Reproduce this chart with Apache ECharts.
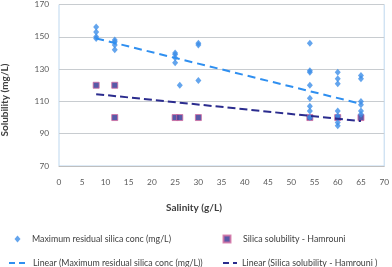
<!DOCTYPE html>
<html><head><meta charset="utf-8">
<script src="https://cdn.jsdelivr.net/npm/echarts@6/dist/echarts.min.js"></script>
<style>html,body{margin:0;padding:0;background:#fff}#c{width:392px;height:267px}</style>
</head><body><div id="c"></div>
<script>
// Maximum residual silica conc (mg/L): [salinity, value]
var maxResidual = [
  [8,156],[8,153],[8,150],[8,149],
  [12,148],[12,147],[12,145],[12,142],
  [25,140],[25,139],[25,137],[25,134],[26,120],
  [30,146],[30,145],[30,123],
  [54,146],[54,129],[54,128],[54,120],[54,112],[54,107],[54,104],[54,100],
  [60,128],[60,124],[60,121],[60,104],[60,101],[60,97],[60,95],
  [65,126],[65,124],[65,110],[65,108],[65,104],[65,102]
];
// Silica solubility - Hamrouni
var hamrouni = [[8,120],[12,120],[12,100],[25,100],[26,100],[30,100],[54,100],[60,100],[65,100]];
// Trend line endpoints
var trendMax = [[8,149],[65,108.5]];
var trendHam = [[8,114.5],[65,97.8]];
var xTicks = [0,70,5];
var yTicks = [70,170,20];
var xTitle = 'Salinity (g/L)';
var yTitle = 'Solubility (mg/L)';

var FONT = 'Lato';
var chart = echarts.init(document.getElementById('c'), null, {renderer:'canvas'});
function legendAt(left, top, w, h, pad, item, extra) {
  var l = {orient:'horizontal',left:left,top:top,padding:0,itemWidth:w,itemHeight:h,
    textStyle:{fontFamily:FONT,fontSize:8.8,color:'#404040',padding:[0,0,0,pad]},data:[item]};
  for (var k in extra) l[k] = extra[k];
  return l;
}
var lineLeg = {itemStyle:{opacity:0},lineStyle:{type:[6,4],width:2}};
var titleStyle = {fontFamily:FONT,fontSize:10,fontWeight:'bold',fill:'#404040',align:'center',verticalAlign:'middle'};
chart.setOption({
  animation:false,
  textStyle:{fontFamily:FONT},
  grid:{left:59,right:5,top:4.5,bottom:101,show:true,borderColor:'#bdd7ee',borderWidth:1,backgroundColor:'transparent'},
  graphic:[
    {type:'text',x:194,y:208,style:Object.assign({text:xTitle},titleStyle)},
    {type:'text',x:5,y:100,rotation:Math.PI/2,style:Object.assign({text:yTitle},titleStyle)}
  ],
  xAxis:{type:'value',min:xTicks[0],max:xTicks[1],interval:xTicks[2],
    axisLine:{show:true,lineStyle:{color:'#bfbfbf'}},axisTick:{show:false},splitLine:{show:false},
    axisLabel:{fontFamily:FONT,fontSize:8.3,color:'#595959',margin:12}},
  yAxis:{type:'value',min:yTicks[0],max:yTicks[1],interval:yTicks[2],
    axisLine:{show:false},axisTick:{show:false},
    splitLine:{show:true,lineStyle:{color:'#c8ccd0',width:1}},
    axisLabel:{fontFamily:FONT,fontSize:8.3,color:'#595959',margin:10}},
  legend:[
    legendAt(14.5,234.5,6,7,6.5,{name:'Maximum residual silica conc (mg/L)',icon:'diamond'},{}),
    legendAt(8,258.5,16,7,3,{name:'Linear (Maximum residual silica conc (mg/L))'},lineLeg),
    legendAt(222.5,234.5,7,7,7.5,{name:'Silica solubility - Hamrouni',icon:'rect'},{}),
    legendAt(222,258.5,14,7,0,{name:'Linear (Silica solubility - Hamrouni )'},lineLeg)
  ],
  series:[
    {name:'Maximum residual silica conc (mg/L)',type:'scatter',data:maxResidual,symbol:'diamond',symbolSize:[6,7],
     itemStyle:{color:'#3d8fe8'},z:3},
    {name:'Silica solubility - Hamrouni',type:'scatter',data:hamrouni,symbol:'rect',symbolSize:6,
     itemStyle:{color:'#2e3192',borderColor:'#d36ba0',borderWidth:1},z:2},
    {name:'Linear (Maximum residual silica conc (mg/L))',type:'line',data:trendMax,symbol:'none',
     lineStyle:{color:'#2f8ff0',width:2,type:[8,5]},itemStyle:{color:'#2f8ff0'},z:4},
    {name:'Linear (Silica solubility - Hamrouni )',type:'line',data:trendHam,symbol:'none',
     lineStyle:{color:'#2b2c8e',width:2,type:[8,4]},itemStyle:{color:'#2b2c8e'},z:4}
  ]
});
</script></body></html>
